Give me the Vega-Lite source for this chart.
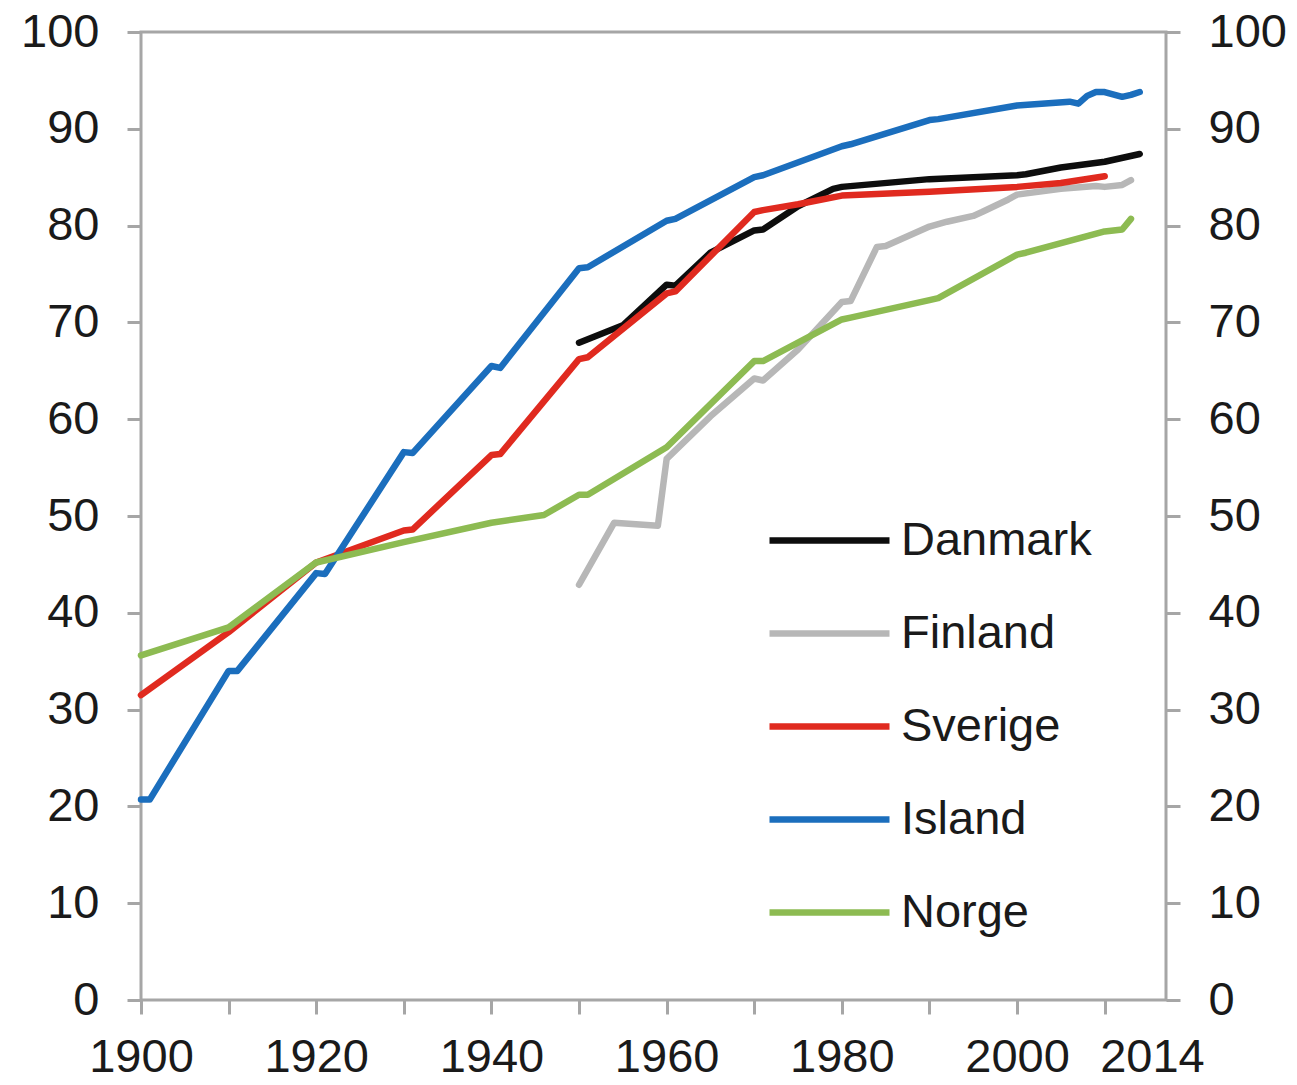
{
  "$schema": "https://vega.github.io/schema/vega-lite/v6.json",
  "width": 1025,
  "height": 968,
  "autosize": {"type": "none"},
  "padding": {"left": 141, "top": 32, "right": 131, "bottom": 85},
  "background": "white",
  "config": {
    "font": "Liberation Sans",
    "view": {"stroke": "#a6a6a6", "strokeWidth": 3},
    "axis": {
      "grid": false,
      "domain": false,
      "tickColor": "#a6a6a6",
      "tickWidth": 3,
      "tickSize": 14,
      "labelFont": "Liberation Sans",
      "labelFontSize": 47,
      "labelColor": "#1a1a1a",
      "title": null
    },
    "legend": {"padding": 0}
  },
  "data": {
    "values": [
      {"land": "Danmark", "year": 1950, "v": 67.9},
      {"land": "Danmark", "year": 1955, "v": 69.7},
      {"land": "Danmark", "year": 1960, "v": 73.9},
      {"land": "Danmark", "year": 1961, "v": 73.8},
      {"land": "Danmark", "year": 1965, "v": 77.2},
      {"land": "Danmark", "year": 1970, "v": 79.5},
      {"land": "Danmark", "year": 1971, "v": 79.6},
      {"land": "Danmark", "year": 1975, "v": 82.0},
      {"land": "Danmark", "year": 1979, "v": 83.8},
      {"land": "Danmark", "year": 1980, "v": 84.0},
      {"land": "Danmark", "year": 1990, "v": 84.8},
      {"land": "Danmark", "year": 2000, "v": 85.2},
      {"land": "Danmark", "year": 2001, "v": 85.3},
      {"land": "Danmark", "year": 2005, "v": 86.0},
      {"land": "Danmark", "year": 2010, "v": 86.6},
      {"land": "Danmark", "year": 2014, "v": 87.4},
      {"land": "Finland", "year": 1950, "v": 42.9},
      {"land": "Finland", "year": 1954, "v": 49.3},
      {"land": "Finland", "year": 1959, "v": 49.0},
      {"land": "Finland", "year": 1960, "v": 55.9},
      {"land": "Finland", "year": 1965, "v": 60.3},
      {"land": "Finland", "year": 1970, "v": 64.2},
      {"land": "Finland", "year": 1971, "v": 64.0},
      {"land": "Finland", "year": 1975, "v": 67.2},
      {"land": "Finland", "year": 1980, "v": 72.1},
      {"land": "Finland", "year": 1981, "v": 72.2},
      {"land": "Finland", "year": 1984, "v": 77.8},
      {"land": "Finland", "year": 1985, "v": 77.9},
      {"land": "Finland", "year": 1990, "v": 79.9},
      {"land": "Finland", "year": 1992, "v": 80.4},
      {"land": "Finland", "year": 1995, "v": 81.0},
      {"land": "Finland", "year": 1996, "v": 81.4},
      {"land": "Finland", "year": 1999, "v": 82.7},
      {"land": "Finland", "year": 2000, "v": 83.2},
      {"land": "Finland", "year": 2005, "v": 83.8},
      {"land": "Finland", "year": 2009, "v": 84.1},
      {"land": "Finland", "year": 2010, "v": 84.0},
      {"land": "Finland", "year": 2012, "v": 84.2},
      {"land": "Finland", "year": 2013, "v": 84.7},
      {"land": "Sverige", "year": 1900, "v": 31.5},
      {"land": "Sverige", "year": 1910, "v": 38.0},
      {"land": "Sverige", "year": 1920, "v": 45.2},
      {"land": "Sverige", "year": 1930, "v": 48.5},
      {"land": "Sverige", "year": 1931, "v": 48.6},
      {"land": "Sverige", "year": 1940, "v": 56.3},
      {"land": "Sverige", "year": 1941, "v": 56.4},
      {"land": "Sverige", "year": 1950, "v": 66.2},
      {"land": "Sverige", "year": 1951, "v": 66.4},
      {"land": "Sverige", "year": 1960, "v": 73.0},
      {"land": "Sverige", "year": 1961, "v": 73.2},
      {"land": "Sverige", "year": 1970, "v": 81.4},
      {"land": "Sverige", "year": 1971, "v": 81.6},
      {"land": "Sverige", "year": 1975, "v": 82.2},
      {"land": "Sverige", "year": 1980, "v": 83.1},
      {"land": "Sverige", "year": 1990, "v": 83.5},
      {"land": "Sverige", "year": 2000, "v": 84.0},
      {"land": "Sverige", "year": 2005, "v": 84.4},
      {"land": "Sverige", "year": 2010, "v": 85.1},
      {"land": "Island", "year": 1900, "v": 20.7},
      {"land": "Island", "year": 1901, "v": 20.7},
      {"land": "Island", "year": 1910, "v": 34.0},
      {"land": "Island", "year": 1911, "v": 34.0},
      {"land": "Island", "year": 1920, "v": 44.1},
      {"land": "Island", "year": 1921, "v": 44.0},
      {"land": "Island", "year": 1930, "v": 56.6},
      {"land": "Island", "year": 1931, "v": 56.5},
      {"land": "Island", "year": 1940, "v": 65.5},
      {"land": "Island", "year": 1941, "v": 65.3},
      {"land": "Island", "year": 1950, "v": 75.6},
      {"land": "Island", "year": 1951, "v": 75.7},
      {"land": "Island", "year": 1960, "v": 80.5},
      {"land": "Island", "year": 1961, "v": 80.7},
      {"land": "Island", "year": 1970, "v": 85.0},
      {"land": "Island", "year": 1971, "v": 85.2},
      {"land": "Island", "year": 1980, "v": 88.2},
      {"land": "Island", "year": 1981, "v": 88.4},
      {"land": "Island", "year": 1990, "v": 90.9},
      {"land": "Island", "year": 1991, "v": 91.0},
      {"land": "Island", "year": 2000, "v": 92.4},
      {"land": "Island", "year": 2006, "v": 92.8},
      {"land": "Island", "year": 2007, "v": 92.6},
      {"land": "Island", "year": 2008, "v": 93.4},
      {"land": "Island", "year": 2009, "v": 93.8},
      {"land": "Island", "year": 2010, "v": 93.8},
      {"land": "Island", "year": 2012, "v": 93.3},
      {"land": "Island", "year": 2013, "v": 93.5},
      {"land": "Island", "year": 2014, "v": 93.8},
      {"land": "Norge", "year": 1900, "v": 35.6},
      {"land": "Norge", "year": 1910, "v": 38.5},
      {"land": "Norge", "year": 1920, "v": 45.2},
      {"land": "Norge", "year": 1930, "v": 47.3},
      {"land": "Norge", "year": 1940, "v": 49.3},
      {"land": "Norge", "year": 1946, "v": 50.1},
      {"land": "Norge", "year": 1950, "v": 52.2},
      {"land": "Norge", "year": 1951, "v": 52.2},
      {"land": "Norge", "year": 1960, "v": 57.1},
      {"land": "Norge", "year": 1970, "v": 66.0},
      {"land": "Norge", "year": 1971, "v": 66.0},
      {"land": "Norge", "year": 1980, "v": 70.3},
      {"land": "Norge", "year": 1981, "v": 70.5},
      {"land": "Norge", "year": 1990, "v": 72.3},
      {"land": "Norge", "year": 1991, "v": 72.5},
      {"land": "Norge", "year": 2000, "v": 77.0},
      {"land": "Norge", "year": 2001, "v": 77.2},
      {"land": "Norge", "year": 2010, "v": 79.4},
      {"land": "Norge", "year": 2012, "v": 79.6},
      {"land": "Norge", "year": 2013, "v": 80.7}
    ]
  },
  "resolve": {"axis": {"x": "independent", "y": "independent"}},
  "layer": [
    {
      "mark": {"type": "line", "strokeWidth": 6.5, "strokeCap": "round", "strokeJoin": "round"},
      "encoding": {
        "x": {
          "field": "year",
          "type": "quantitative",
          "scale": {"domain": [1900, 2017], "nice": false, "zero": false},
          "axis": {
            "orient": "bottom",
            "values": [1900, 1910, 1920, 1930, 1940, 1950, 1960, 1970, 1980, 1990, 2000, 2010],
            "labelExpr": "datum.value % 20 == 0 ? datum.value : ''",
            "labelPadding": 20,
            "labelFlush": false,
            "labelOverlap": false
          }
        },
        "y": {
          "field": "v",
          "type": "quantitative",
          "scale": {"domain": [0, 100], "nice": false},
          "axis": {"orient": "left", "values": [0, 10, 20, 30, 40, 50, 60, 70, 80, 90, 100], "labelPadding": 28, "labelFlush": false, "labelOverlap": false}
        },
        "color": {
          "field": "land",
          "type": "nominal",
          "scale": {
            "domain": ["Danmark", "Finland", "Sverige", "Island", "Norge"],
            "range": ["#0d0d0d", "#b7b7b7", "#e02a1f", "#1b6ebd", "#8dbb52"]
          },
          "legend": {
            "title": null,
            "orient": "none",
            "legendX": 625,
            "legendY": 445,
            "symbolType": "stroke",
            "symbolSize": 14400,
            "symbolStrokeWidth": 6.5,
            "labelFontSize": 47,
            "labelFont": "Liberation Sans",
            "labelColor": "#1a1a1a",
            "labelLimit": 0,
            "labelOffset": 8,
            "rowPadding": 6
          }
        }
      }
    },
    {
      "mark": {"type": "point", "opacity": 0},
      "encoding": {
        "x": {
          "field": "year",
          "type": "quantitative",
          "axis": {
            "orient": "bottom",
            "values": [2015.4],
            "labelExpr": "'2014'",
            "ticks": false,
            "labelPadding": 34,
            "labelFlush": false,
            "labelOverlap": false
          }
        },
        "y": {
          "field": "v",
          "type": "quantitative",
          "axis": {"orient": "right", "values": [0, 10, 20, 30, 40, 50, 60, 70, 80, 90, 100], "labelPadding": 28, "labelFlush": false, "labelOverlap": false}
        }
      }
    }
  ]
}
